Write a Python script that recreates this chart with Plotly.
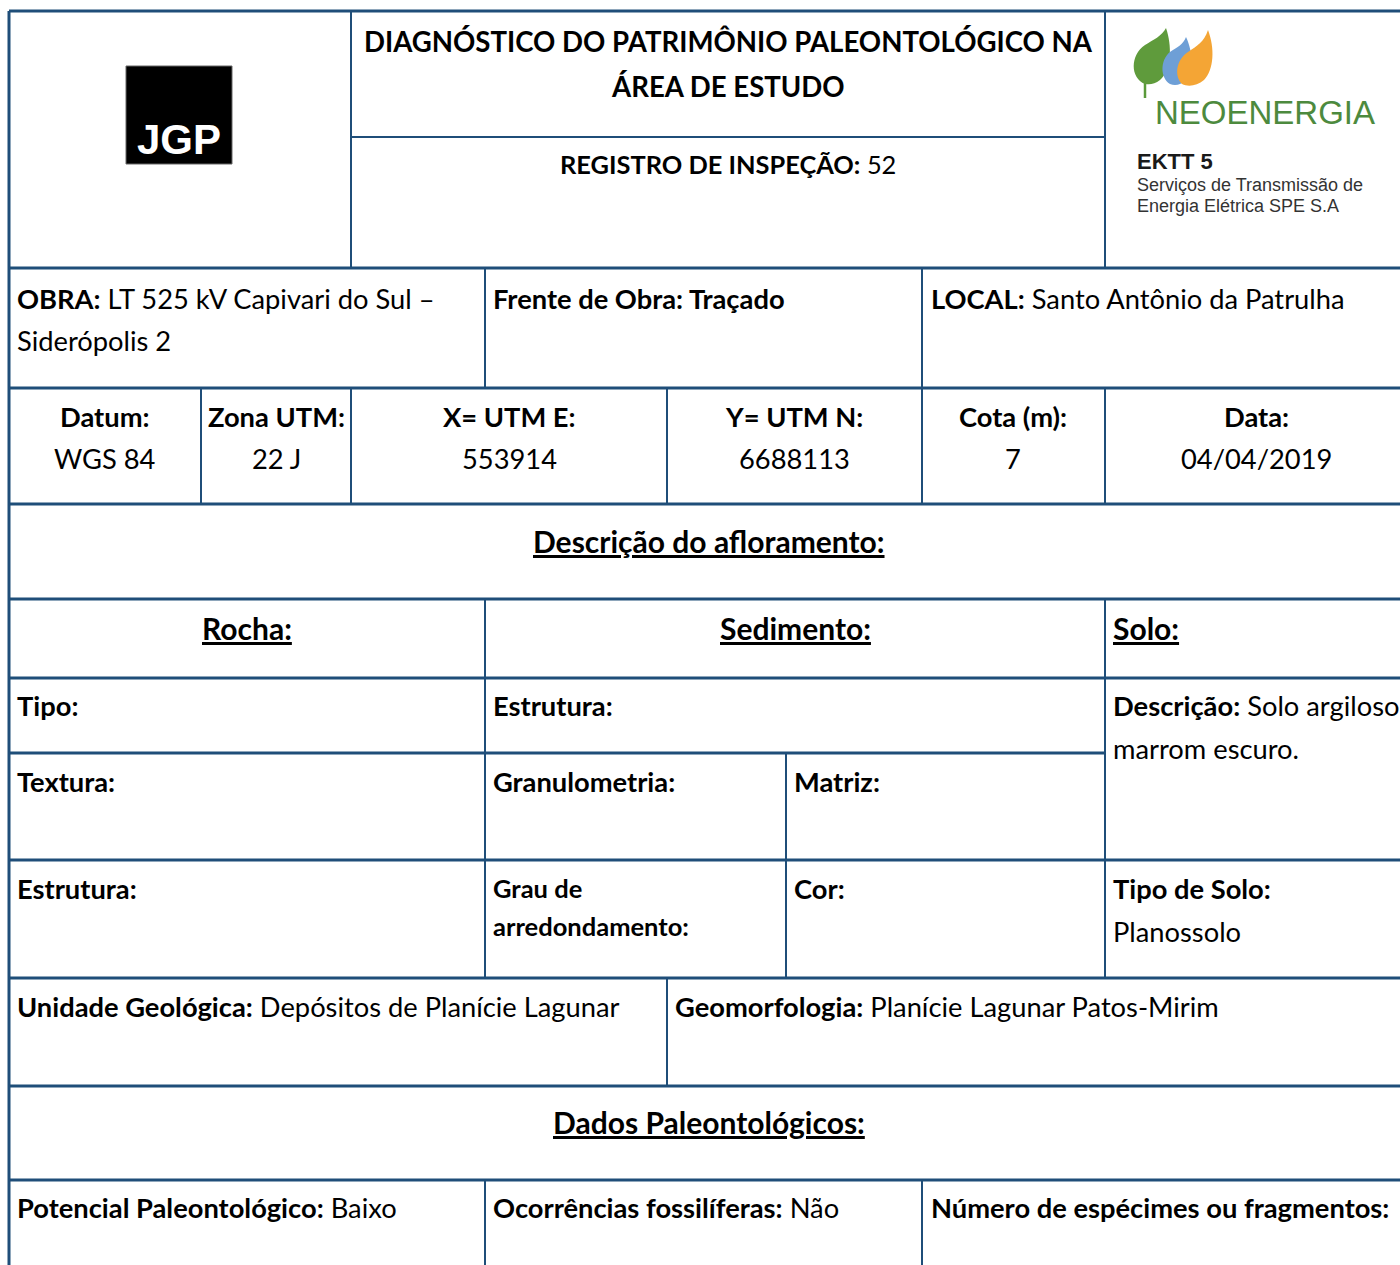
import plotly.graph_objects as go

# ---------------- data (texts of the form) ----------------
title_lines = ["DIAGNÓSTICO DO PATRIMÔNIO PALEONTOLÓGICO NA", "ÁREA DE ESTUDO"]
registro_label = "REGISTRO DE INSPEÇÃO:"
registro_value = "52"

obra_label = "OBRA:"
obra_value = ["LT 525 kV Capivari do Sul –", "Siderópolis 2"]
frente_label = "Frente de Obra: Traçado"
local_label = "LOCAL:"
local_value = "Santo Antônio da Patrulha"

coord_labels = ["Datum:", "Zona UTM:", "X= UTM E:", "Y= UTM N:", "Cota (m):", "Data:"]
coord_values = ["WGS 84", "22 J", "553914", "6688113", "7", "04/04/2019"]

section_titles = ["Descrição do afloramento:", "Dados Paleontológicos:"]
group_titles = ["Rocha:", "Sedimento:", "Solo:"]

rocha_fields = ["Tipo:", "Textura:", "Estrutura:"]
sedimento_fields = ["Estrutura:", "Granulometria:", "Matriz:", "Grau de", "arredondamento:", "Cor:"]
solo_desc_label = "Descrição:"
solo_desc_value = ["Solo argiloso", "marrom escuro."]
solo_tipo_label = "Tipo de Solo:"
solo_tipo_value = "Planossolo"

geo_labels = ["Unidade Geológica:", "Geomorfologia:"]
geo_values = ["Depósitos de Planície Lagunar", "Planície Lagunar Patos-Mirim"]

paleo_labels = ["Potencial Paleontológico:", "Ocorrências fossilíferas:", "Número de espécimes ou fragmentos:"]
paleo_values = ["Baixo", "Não", ""]

logo_left = "JGP"
logo_right = ["NEOENERGIA", "EKTT 5", "Serviços de Transmissão de", "Energia Elétrica SPE S.A"]

# ---------------- styling ----------------
W, H = 1400, 1265
LINE = "#1F4E79"
FONT = "Lato"
FS = 27.3
TXT = "#000000"

fig = go.Figure()
shapes = []
ann = []


def hline(y, x0, x1, w=3):
    shapes.append(dict(type="line", xref="x", yref="y", x0=x0, x1=x1, y0=y, y1=y,
                       line=dict(color=LINE, width=w)))


def vline(x, y0, y1, w=2, color=LINE):
    shapes.append(dict(type="line", xref="x", yref="y", x0=x, x1=x, y0=y0, y1=y1,
                       line=dict(color=color, width=w)))


def text(x, y, s, anchor="left", size=FS, color=TXT, family=FONT):
    if anchor == "left":
        x = x - 2
    ann.append(dict(x=x, y=y, xref="x", yref="y", text=s, showarrow=False,
                    xanchor=anchor, yanchor="middle", align=anchor,
                    font=dict(family=family, size=size, color=color)))


# ---------------- grid ----------------
R = 1402
hline(11, 9, R)
vline(9, 11, H + 2, 3)
vline(351, 11, 268)
vline(1105, 11, 268)
hline(137, 351, 1105, 2)
hline(268, 9, R)
vline(485, 268, 388)
vline(922, 268, 388)
hline(388, 9, R)
for xv in [201, 351, 667, 922, 1105]:
    vline(xv, 388, 504)
hline(504, 9, R)
hline(599, 9, R)
vline(485, 599, 978)
vline(1105, 599, 978)
hline(678, 9, R)
hline(753, 9, 1105)
vline(786, 753, 978)
hline(860, 9, R)
hline(978, 9, R)
vline(667, 978, 1086)
hline(1086, 9, R)
hline(1180, 9, R)
vline(485, 1180, H + 2)
vline(922, 1180, H + 2)

# ---------------- header ----------------
text(728, 41, "<b>%s</b>" % title_lines[0], "center", 27.6)
text(728, 86, "<b>%s</b>" % title_lines[1], "center", 27.6)
text(728, 164, "<b>%s</b> %s" % (registro_label, registro_value), "center", 25.4)

# JGP logo
shapes.append(dict(type="rect", xref="x", yref="y", x0=126, x1=232, y0=66, y1=164,
                   fillcolor="#000000", line=dict(color="#666666", width=1)))
text(179, 139, "<b>%s</b>" % logo_left, "center", 42, "#ffffff", "Liberation Sans")

# Neoenergia logo leaves
vline(1145, 78, 98, 2.5, "#5a9a3a")
shapes.append(dict(type="path", xref="x", yref="y",
                   path="M1145,84 C1130,78 1130,55 1145,45 C1153,40 1162,36 1166,28 C1172,45 1172,70 1160,80 C1155,84 1150,85 1145,84 Z",
                   fillcolor="#5f9b3c", line=dict(width=0)))
shapes.append(dict(type="path", xref="x", yref="y",
                   path="M1170,84 C1160,78 1160,60 1170,52 C1177,47 1183,45 1186,37 C1193,52 1194,70 1186,80 C1181,85 1175,86 1170,84 Z",
                   fillcolor="#6e9fd6", line=dict(width=0)))
shapes.append(dict(type="path", xref="x", yref="y",
                   path="M1182,84 C1174,76 1176,60 1188,52 C1197,46 1204,42 1208,30 C1215,48 1214,70 1204,80 C1197,86 1188,87 1182,84 Z",
                   fillcolor="#f4a535", line=dict(width=0)))
text(1265, 112, logo_right[0], "center", 33, "#4d8a3e", "Liberation Sans")
text(1137, 161, "<b>%s</b>" % logo_right[1], "left", 22, "#1a1a1a", "Liberation Sans")
text(1137, 185, logo_right[2], "left", 18, "#333333", "Liberation Sans")
text(1137, 206, logo_right[3], "left", 18, "#333333", "Liberation Sans")

# ---------------- row: obra ----------------
text(17, 298, "<b>%s</b> %s" % (obra_label, obra_value[0]))
text(17, 340, obra_value[1])
text(493, 298, "<b>%s</b>" % frente_label)
text(931, 298, "<b>%s</b> %s" % (local_label, local_value))

# ---------------- coordinates ----------------
coord_cx = [105, 276, 509, 794, 1013, 1256]
for cx, lab, val in zip(coord_cx, coord_labels, coord_values):
    text(cx, 416, "<b>%s</b>" % lab, "center")
    text(cx, 458, val, "center")

UL = "<span style='text-decoration:underline'><b>%s</b></span>"
text(709, 541, UL % section_titles[0], "center", 30)

text(247, 628, UL % group_titles[0], "center", 30)
text(795, 628, UL % group_titles[1], "center", 30)
text(1113, 628, UL % group_titles[2], "left", 30)

# rocha
text(17, 705, "<b>%s</b>" % rocha_fields[0])
text(17, 781, "<b>%s</b>" % rocha_fields[1])
text(17, 888, "<b>%s</b>" % rocha_fields[2])
# sedimento
text(493, 705, "<b>%s</b>" % sedimento_fields[0])
text(493, 781, "<b>%s</b>" % sedimento_fields[1])
text(794, 781, "<b>%s</b>" % sedimento_fields[2])
text(493, 888, "<b>%s</b>" % sedimento_fields[3], size=25.5)
text(493, 926, "<b>%s</b>" % sedimento_fields[4], size=25.5)
text(794, 888, "<b>%s</b>" % sedimento_fields[5])
# solo
text(1113, 705, "<b>%s</b> %s" % (solo_desc_label, solo_desc_value[0]))
text(1113, 748, solo_desc_value[1])
text(1113, 888, "<b>%s</b>" % solo_tipo_label)
text(1113, 931, solo_tipo_value)

# geology
text(17, 1006, "<b>%s</b> %s" % (geo_labels[0], geo_values[0]))
text(675, 1006, "<b>%s</b> %s" % (geo_labels[1], geo_values[1]))

text(709, 1122, UL % section_titles[1], "center", 30)

# paleo
for xp, lab, val in zip([17, 493, 931], paleo_labels, paleo_values):
    text(xp, 1207, ("<b>%s</b> %s" % (lab, val)).rstrip())

fig.update_layout(
    width=W, height=H, margin=dict(l=0, r=0, t=0, b=0),
    paper_bgcolor="white", plot_bgcolor="white",
    xaxis=dict(range=[0, W], visible=False, fixedrange=True),
    yaxis=dict(range=[H, 0], visible=False, fixedrange=True),
    shapes=shapes, annotations=ann, showlegend=False,
)

fig.write_html("out.html", config={"displayModeBar": False},
               post_script="document.body.style.margin='0';document.body.style.overflow='hidden';")
